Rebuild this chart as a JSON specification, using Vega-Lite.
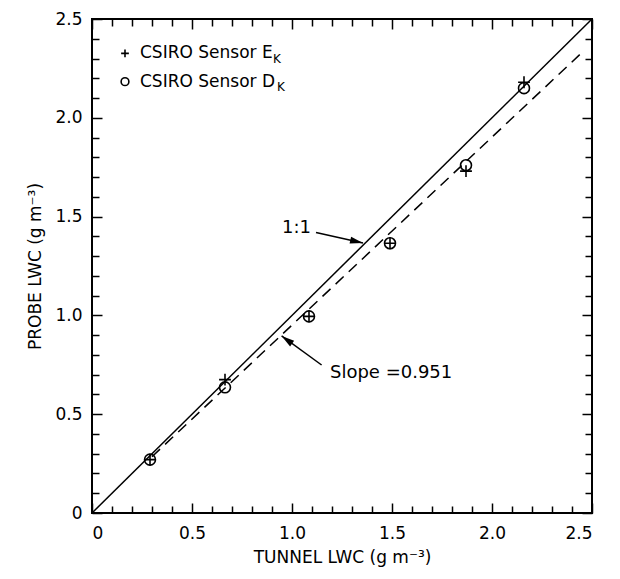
{
  "$schema": "https://vega.github.io/schema/vega-lite/v6.json",
  "width": 500,
  "height": 494,
  "autosize": "none",
  "padding": {"left": 92, "top": 19, "right": 28, "bottom": 66},
  "config": {
    "view": {"stroke": "black", "strokeWidth": 2},
    "font": "DejaVu Sans",
    "axis": {"domain": false, "grid": false, "tickColor": "black", "tickWidth": 1.5, "labelColor": "black", "titleColor": "black", "labelFontSize": 17, "titleFontSize": 17, "titleFontWeight": "normal", "labelFont": "DejaVu Sans", "titleFont": "DejaVu Sans"}
  },
  "datasets": {
    "pts": [
      {"tunnel": 0.29, "probe": 0.27, "sensor": "E"},
      {"tunnel": 0.665, "probe": 0.675, "sensor": "E"},
      {"tunnel": 1.085, "probe": 0.995, "sensor": "E"},
      {"tunnel": 1.49, "probe": 1.365, "sensor": "E"},
      {"tunnel": 1.87, "probe": 1.73, "sensor": "E"},
      {"tunnel": 2.16, "probe": 2.18, "sensor": "E"},
      {"tunnel": 0.29, "probe": 0.27, "sensor": "D"},
      {"tunnel": 0.665, "probe": 0.636, "sensor": "D"},
      {"tunnel": 1.085, "probe": 0.995, "sensor": "D"},
      {"tunnel": 1.49, "probe": 1.365, "sensor": "D"},
      {"tunnel": 1.87, "probe": 1.76, "sensor": "D"},
      {"tunnel": 2.16, "probe": 2.15, "sensor": "D"}
    ],
    "one": [{"x": 0, "y": 0}, {"x": 2.5, "y": 2.5}],
    "fit": [{"x": 0.3, "y": 0.285}, {"x": 2.46, "y": 2.34}],
    "arrows": [
      {"x": 1.12, "y": 1.42, "x2": 1.355, "y2": 1.366, "angle": 103},
      {"x": 1.148, "y": 0.749, "x2": 0.948, "y2": 0.896, "angle": 306}
    ],
    "legend": [
      {"x": 0.165, "y": 2.326, "sensor": "E", "t": "CSIRO  Sensor E"},
      {"x": 0.165, "y": 2.183, "sensor": "D", "t": "CSIRO  Sensor D"}
    ],
    "sub": [
      {"x": 0.905, "y": 2.297, "t": "K"},
      {"x": 0.925, "y": 2.154, "t": "K"}
    ]
  },
  "layer": [
    {
      "data": {"name": "one"},
      "mark": {"type": "line", "color": "black", "strokeWidth": 1.5},
      "encoding": {
        "x": {"field": "x", "type": "quantitative", "scale": {"domain": [0, 2.5], "nice": false},
          "axis": {"orient": "bottom", "title": "TUNNEL LWC (g m⁻³)", "values": [0,0.1,0.2,0.3,0.4,0.5,0.6,0.7,0.8,0.9,1.0,1.1,1.2,1.3,1.4,1.5,1.6,1.7,1.8,1.9,2.0,2.1,2.2,2.3,2.4,2.5],
            "tickSize": {"condition": {"test": "abs(datum.value*2 - round(datum.value*2)) < 0.001", "value": -10}, "value": -7},
            "labelPadding": 22, "titlePadding": 8,
            "labelExpr": "abs(datum.value*2 - round(datum.value*2)) < 0.001 ? (datum.value == 0 ? '0' : format(datum.value, '.1f')) : ''"}},
        "y": {"field": "y", "type": "quantitative", "scale": {"domain": [0, 2.5], "nice": false},
          "axis": {"orient": "left", "title": "PROBE LWC (g m⁻³)", "values": [0,0.1,0.2,0.3,0.4,0.5,0.6,0.7,0.8,0.9,1.0,1.1,1.2,1.3,1.4,1.5,1.6,1.7,1.8,1.9,2.0,2.1,2.2,2.3,2.4,2.5],
            "tickSize": {"condition": {"test": "abs(datum.value*2 - round(datum.value*2)) < 0.001", "value": -10}, "value": -7},
            "labelPadding": 20, "titlePadding": 10,
            "labelExpr": "abs(datum.value*2 - round(datum.value*2)) < 0.001 ? (datum.value == 0 ? '0' : format(datum.value, '.1f')) : ''"}}
      }
    },
    {
      "data": {"name": "fit"},
      "mark": {"type": "line", "color": "black", "strokeWidth": 1.5, "strokeDash": [11, 7]},
      "encoding": {
        "x": {"field": "x", "type": "quantitative",
          "axis": {"orient": "top", "title": null, "labels": false, "values": [0,0.1,0.2,0.3,0.4,0.5,0.6,0.7,0.8,0.9,1.0,1.1,1.2,1.3,1.4,1.5,1.6,1.7,1.8,1.9,2.0,2.1,2.2,2.3,2.4,2.5],
            "tickSize": {"condition": {"test": "abs(datum.value*2 - round(datum.value*2)) < 0.001", "value": -10}, "value": -7}}},
        "y": {"field": "y", "type": "quantitative",
          "axis": {"orient": "right", "title": null, "labels": false, "values": [0,0.1,0.2,0.3,0.4,0.5,0.6,0.7,0.8,0.9,1.0,1.1,1.2,1.3,1.4,1.5,1.6,1.7,1.8,1.9,2.0,2.1,2.2,2.3,2.4,2.5],
            "tickSize": {"condition": {"test": "abs(datum.value*2 - round(datum.value*2)) < 0.001", "value": -10}, "value": -7}}}
      }
    },
    {
      "data": {"name": "pts"},
      "mark": {"type": "point", "filled": false, "strokeWidth": 1.6, "opacity": 1},
      "encoding": {
        "x": {"field": "tunnel", "type": "quantitative", "axis": null},
        "y": {"field": "probe", "type": "quantitative", "axis": null},
        "shape": {"field": "sensor", "type": "nominal", "scale": {"domain": ["E", "D"], "range": ["M-1,0L1,0M0,-1L0,1", "circle"]}, "legend": null},
        "size": {"field": "sensor", "type": "nominal", "scale": {"domain": ["E", "D"], "range": [140, 120]}, "legend": null},
        "color": {"value": "black"}
      }
    },
    {
      "data": {"name": "legend"},
      "mark": {"type": "point", "filled": false, "strokeWidth": 1.6, "opacity": 1},
      "encoding": {
        "x": {"field": "x", "type": "quantitative", "axis": null},
        "y": {"field": "y", "type": "quantitative", "axis": null},
        "shape": {"field": "sensor", "type": "nominal", "scale": {"domain": ["E", "D"], "range": ["M-1,0L1,0M0,-1L0,1", "circle"]}, "legend": null},
        "size": {"value": 60},
        "color": {"value": "black"}
      }
    },
    {
      "data": {"name": "legend"},
      "mark": {"type": "text", "align": "left", "baseline": "middle", "fontSize": 17, "dx": 15, "color": "black"},
      "encoding": {
        "x": {"field": "x", "type": "quantitative", "axis": null},
        "y": {"field": "y", "type": "quantitative", "axis": null},
        "text": {"field": "t"}
      }
    },
    {
      "data": {"name": "sub"},
      "mark": {"type": "text", "align": "left", "baseline": "middle", "fontSize": 12, "color": "black"},
      "encoding": {
        "x": {"field": "x", "type": "quantitative", "axis": null},
        "y": {"field": "y", "type": "quantitative", "axis": null},
        "text": {"field": "t"}
      }
    },
    {
      "data": {"name": "arrows"},
      "mark": {"type": "rule", "color": "black", "strokeWidth": 1.5},
      "encoding": {
        "x": {"field": "x", "type": "quantitative", "axis": null},
        "y": {"field": "y", "type": "quantitative", "axis": null},
        "x2": {"field": "x2"},
        "y2": {"field": "y2"}
      }
    },
    {
      "data": {"name": "arrows"},
      "mark": {"type": "point", "shape": "M0,0L0.4,1.5L-0.4,1.5Z", "filled": true, "size": 300, "color": "black", "opacity": 1},
      "encoding": {
        "x": {"field": "x2", "type": "quantitative", "axis": null},
        "y": {"field": "y2", "type": "quantitative", "axis": null},
        "angle": {"field": "angle", "type": "quantitative", "scale": null}
      }
    },
    {
      "data": {"values": [{"x": 1.095, "y": 1.44, "t": "1:1"}]},
      "mark": {"type": "text", "align": "right", "baseline": "middle", "fontSize": 18, "color": "black"},
      "encoding": {
        "x": {"field": "x", "type": "quantitative", "axis": null},
        "y": {"field": "y", "type": "quantitative", "axis": null},
        "text": {"field": "t"}
      }
    },
    {
      "data": {"values": [{"x": 1.19, "y": 0.71, "t": "Slope =0.951"}]},
      "mark": {"type": "text", "align": "left", "baseline": "middle", "fontSize": 18, "color": "black"},
      "encoding": {
        "x": {"field": "x", "type": "quantitative", "axis": null},
        "y": {"field": "y", "type": "quantitative", "axis": null},
        "text": {"field": "t"}
      }
    }
  ],
  "resolve": {"axis": {"x": "independent", "y": "independent"}}
}
